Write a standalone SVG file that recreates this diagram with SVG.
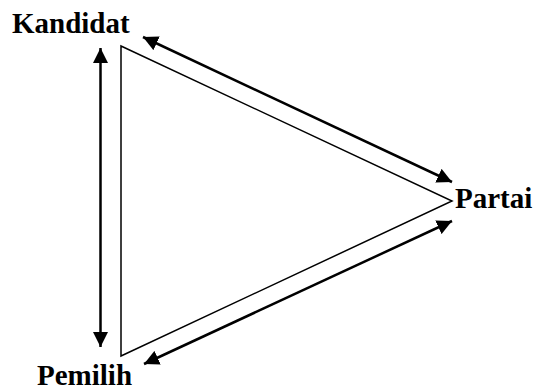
<svg xmlns="http://www.w3.org/2000/svg" width="537" height="390" viewBox="0 0 537 390">
  <style>
    .lbl { font-family: "Liberation Serif", "Times New Roman", serif; font-weight: bold; font-size: 29px; fill: #000; }
    .tri { fill: none; stroke: #000; stroke-width: 1.5; stroke-linejoin: miter; }
    .link { stroke: #000; stroke-width: 2.5; fill: none; marker-start: url(#head); marker-end: url(#head); }
  </style>
  <defs>
    <marker id="head" viewBox="0 0 10 10" refX="10" refY="5" markerUnits="userSpaceOnUse" markerWidth="15" markerHeight="15" orient="auto-start-reverse">
      <path d="M0,0 L10,5 L0,10 Z" fill="#000"/>
    </marker>
  </defs>
  <rect width="537" height="390" fill="#fff"/>
  <polygon class="tri" points="121,46 452,201 121,356"/>
  <g id="connectors">
    <line class="link" x1="100.5" y1="48" x2="100.5" y2="347"/>
    <line class="link" x1="143" y1="37" x2="452" y2="182"/>
    <line class="link" x1="144" y1="364" x2="452" y2="221"/>
  </g>
  <g id="kandidat"><text class="lbl" x="12" y="33">Kandidat</text></g>
  <g id="partai"><text class="lbl" x="455" y="208">Partai</text></g>
  <g id="pemilih"><text class="lbl" x="37" y="385">Pemilih</text></g>
</svg>
